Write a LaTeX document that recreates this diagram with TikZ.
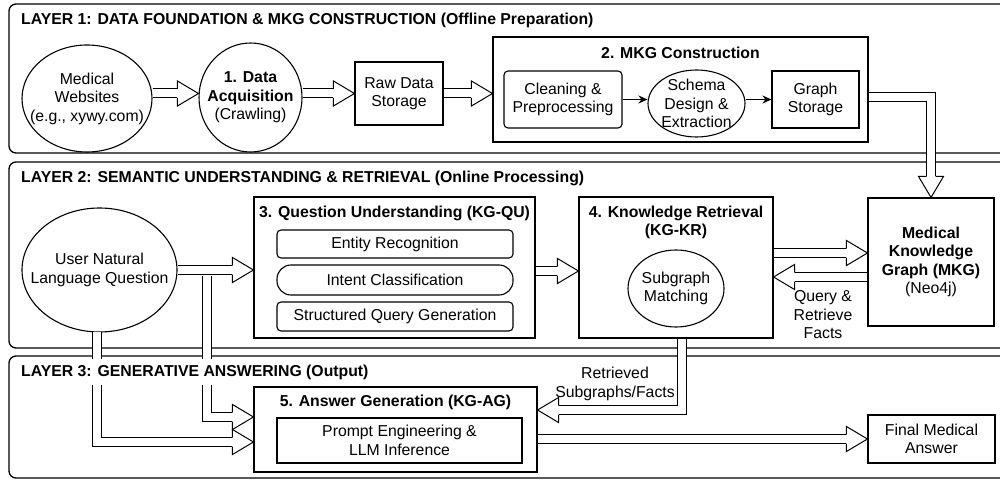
\documentclass[tikz,border=0pt]{standalone}
\usepackage{fontspec}
\setmainfont{Liberation Sans}
\usetikzlibrary{shapes.geometric,arrows.meta,calc}
\newcommand\myfs{\fontsize{15.8}{18.5}\selectfont}
\tikzset{
  every node/.style={font=\myfs, text=black},
  layerbox/.style={draw, line width=1.3pt, rounded corners=7pt, fill=white, inner sep=0},
  box/.style={draw, line width=1.1pt, fill=white, inner sep=0, align=center},
  rbox/.style={box, rounded corners=4pt},
  oval/.style={draw, ellipse, line width=1.1pt, fill=white, inner sep=0},
  ttl/.style={inner sep=0, font=\myfs\bfseries, align=center},
  lttl/.style={inner xsep=2pt, inner ysep=6pt, font=\myfs\bfseries, fill=white},
  lbl/.style={inner sep=0, align=center},
  shaft/.style={draw=black, double=white, double distance=8pt, line width=1pt, line join=miter, line cap=butt},
  tarrow/.style={-{Stealth[length=9pt,width=8pt]}, line width=1.1pt},
  pics/hh/.style={code={\draw[line width=1pt, fill=white, line join=miter]
      (-21pt,4.5pt) -- (-21pt,12.5pt) -- (0,0) -- (-21pt,-12.5pt) -- (-21pt,-4.5pt);}},
}
\begin{document}
\begin{tikzpicture}[x=1pt,y=-1pt]
\useasboundingbox (0,0) rectangle (1000,481);
\fill[white] (0,0) rectangle (1000,481);

% layers
\node[layerbox, minimum width=1006, minimum height=149] (layer1) at (512,78.5) {};
\node[layerbox, minimum width=1006, minimum height=186] (layer2) at (512,255) {};
\node[layerbox, minimum width=1006, minimum height=122] (layer3) at (512,417) {};

% layer 1
\node[oval, minimum width=130, minimum height=107, label={[lbl]center:Medical\\Websites\\(e.g., xywy.com)}] (ws) at (87,98.5) {};
\node[oval, minimum width=103, minimum height=109, label={[lbl]center:\textbf{1. Data}\\\textbf{Acquisition}\\(Crawling)}] (acq) at (250.5,97.5) {};
\node[box, minimum width=88, minimum height=63] (raw) at (399,93.5) {Raw Data\\Storage};
\node[box, minimum width=375, minimum height=105] (box2) at (680.5,89.5) {};
\node[ttl] (t2) at (680.5,53) {2. MKG Construction};
\node[rbox, minimum width=118, minimum height=57] (clean) at (563,99.5) {Cleaning \&\\Preprocessing};
\node[oval, minimum width=97, minimum height=67, label={[lbl]center:Schema\\Design \&\\Extraction}] (schema) at (696.5,103.5) {};
\node[box, minimum width=87, minimum height=57] (gs) at (815.5,99.5) {Graph\\Storage};

% layer 2
\node[oval, minimum width=155, minimum height=124, label={[lbl]center:User Natural\\Language Question}] (uq) at (99.5,270) {};
\node[box, minimum width=281, minimum height=141] (box3) at (394.5,267.5) {};
\node[ttl] (t3) at (394.5,213) {3. Question Understanding (KG-QU)};
\node[rbox, minimum width=236, minimum height=28] (er) at (395,244) {Entity Recognition};
\node[box, rounded corners=14pt, minimum width=236, minimum height=30] (ic) at (395,280) {Intent Classification};
\node[rbox, minimum width=236, minimum height=29] (sq) at (395,316.5) {Structured Query Generation};
\node[box, minimum width=194, minimum height=141] (box4) at (676,267.5) {};
\node[ttl] (t4) at (676,222.5) {4. Knowledge Retrieval\\(KG-KR)};
\node[oval, minimum width=96, minimum height=77, label={[lbl]center:Subgraph\\Matching}] (sm) at (676,288.5) {};
\node[box, minimum width=126, minimum height=128] (mkg) at (931,262) {\textbf{Medical}\\\textbf{Knowledge}\\\textbf{Graph (MKG)}\\(Neo4j)};
\node[lbl] (qr) at (823,315) {Query \&\\Retrieve\\Facts};

% layer 3
\node[box, minimum width=283, minimum height=85] (box5) at (395.5,429.5) {};
\node[ttl] (t5) at (395.5,402) {5. Answer Generation (KG-AG)};
\node[box, minimum width=245, minimum height=45] (pe) at (399.5,440.5) {Prompt Engineering \&\\LLM Inference};
\node[box, minimum width=127, minimum height=48] (fa) at (931.5,439) {Final Medical\\Answer};
\node[lbl] (rs) at (615,384) {Retrieved\\Subgraphs/Facts};

% thin arrows
\draw[tarrow] (clean.east) -- (clean.east -| schema.west);
\draw[tarrow] (schema.east |- gs.west) -- (gs.west);

% hollow arrows layer 1
\draw[shaft] (ws.east |- raw.west) -- ($(acq.west |- raw.west)+(-21,0)$);
\pic at (acq.west |- raw.west) {hh};
\draw[shaft] (acq.east |- raw.west) -- ($(raw.west)+(-21,0)$);
\pic at (raw.west) {hh};
\draw[shaft] (raw.east) -- ($(raw.east -| box2.west)+(-21,0)$);
\pic at (raw.east -| box2.west) {hh};
\coordinate (gsout) at ($(gs.east -| box2.east)+(0,-2)$);
\draw[shaft] (gsout) -- (mkg.north |- gsout) -- ($(mkg.north)+(0,-21)$);
\pic[rotate=-90] at (mkg.north) {hh};

% hollow arrows layer 2
\draw[shaft] (uq.east) -- ($(uq.east -| box3.west)+(-21,0)$);
\pic at (uq.east -| box3.west) {hh};
\coordinate (f3) at ($(box3.east)+(0,3.5)$);
\draw[shaft] (f3) -- ($(f3 -| box4.west)+(-21,0)$);
\pic at (f3 -| box4.west) {hh};
\coordinate (g4) at ($(box4.east)+(0,-14.5)$);
\draw[shaft] (g4) -- ($(g4 -| mkg.west)+(-21,0)$);
\pic at (g4 -| mkg.west) {hh};
\coordinate (h4) at ($(mkg.west |- box4.east)+(0,9.5)$);
\draw[shaft] (h4) -- ($(h4 -| box4.east)+(21,0)$);
\pic[rotate=180] at (h4 -| box4.east) {hh};

% hollow arrows into layer 3
\coordinate (in5a) at ($(box5.west)+(0,-12.5)$);
\coordinate (in5b) at ($(box5.west)+(0,12.5)$);
\coordinate (brtop) at ($(uq.east)!0.39!(uq.east -| box3.west)+(0,5.5)$);
\coordinate (ubot) at ($(uq.south)+(-2.5,-0.5)$);
\draw[shaft] (ubot) -- (ubot |- in5b) -- ($(in5b)+(-21,0)$);
\pic at (in5b) {hh};
\draw[shaft] (brtop) -- (brtop |- in5a) -- ($(in5a)+(-21,0)$);
\pic at (in5a) {hh};
\coordinate (in5c) at ($(box5.east)+(0,-19.5)$);
\coordinate (k4) at ($(box4.south)+(6,0)$);
\draw[shaft] (k4) -- (k4 |- in5c) -- ($(in5c)+(21,0)$);
\pic[rotate=180] at (in5c) {hh};
\draw[shaft] (fa.west -| box5.east) -- ($(fa.west)+(-21,0)$);
\pic at (fa.west) {hh};

% layer titles (drawn last, over the shafts)
\node[lttl, anchor=west] (l1t) at (19,20) {LAYER 1: DATA FOUNDATION \& MKG CONSTRUCTION (Offline Preparation)};
\node[lttl, anchor=west] (l2t) at (19,178) {LAYER 2: SEMANTIC UNDERSTANDING \& RETRIEVAL (Online Processing)};
\node[lttl, anchor=west] (l3t) at (19,372) {LAYER 3: GENERATIVE ANSWERING (Output)};
\end{tikzpicture}
\end{document}
